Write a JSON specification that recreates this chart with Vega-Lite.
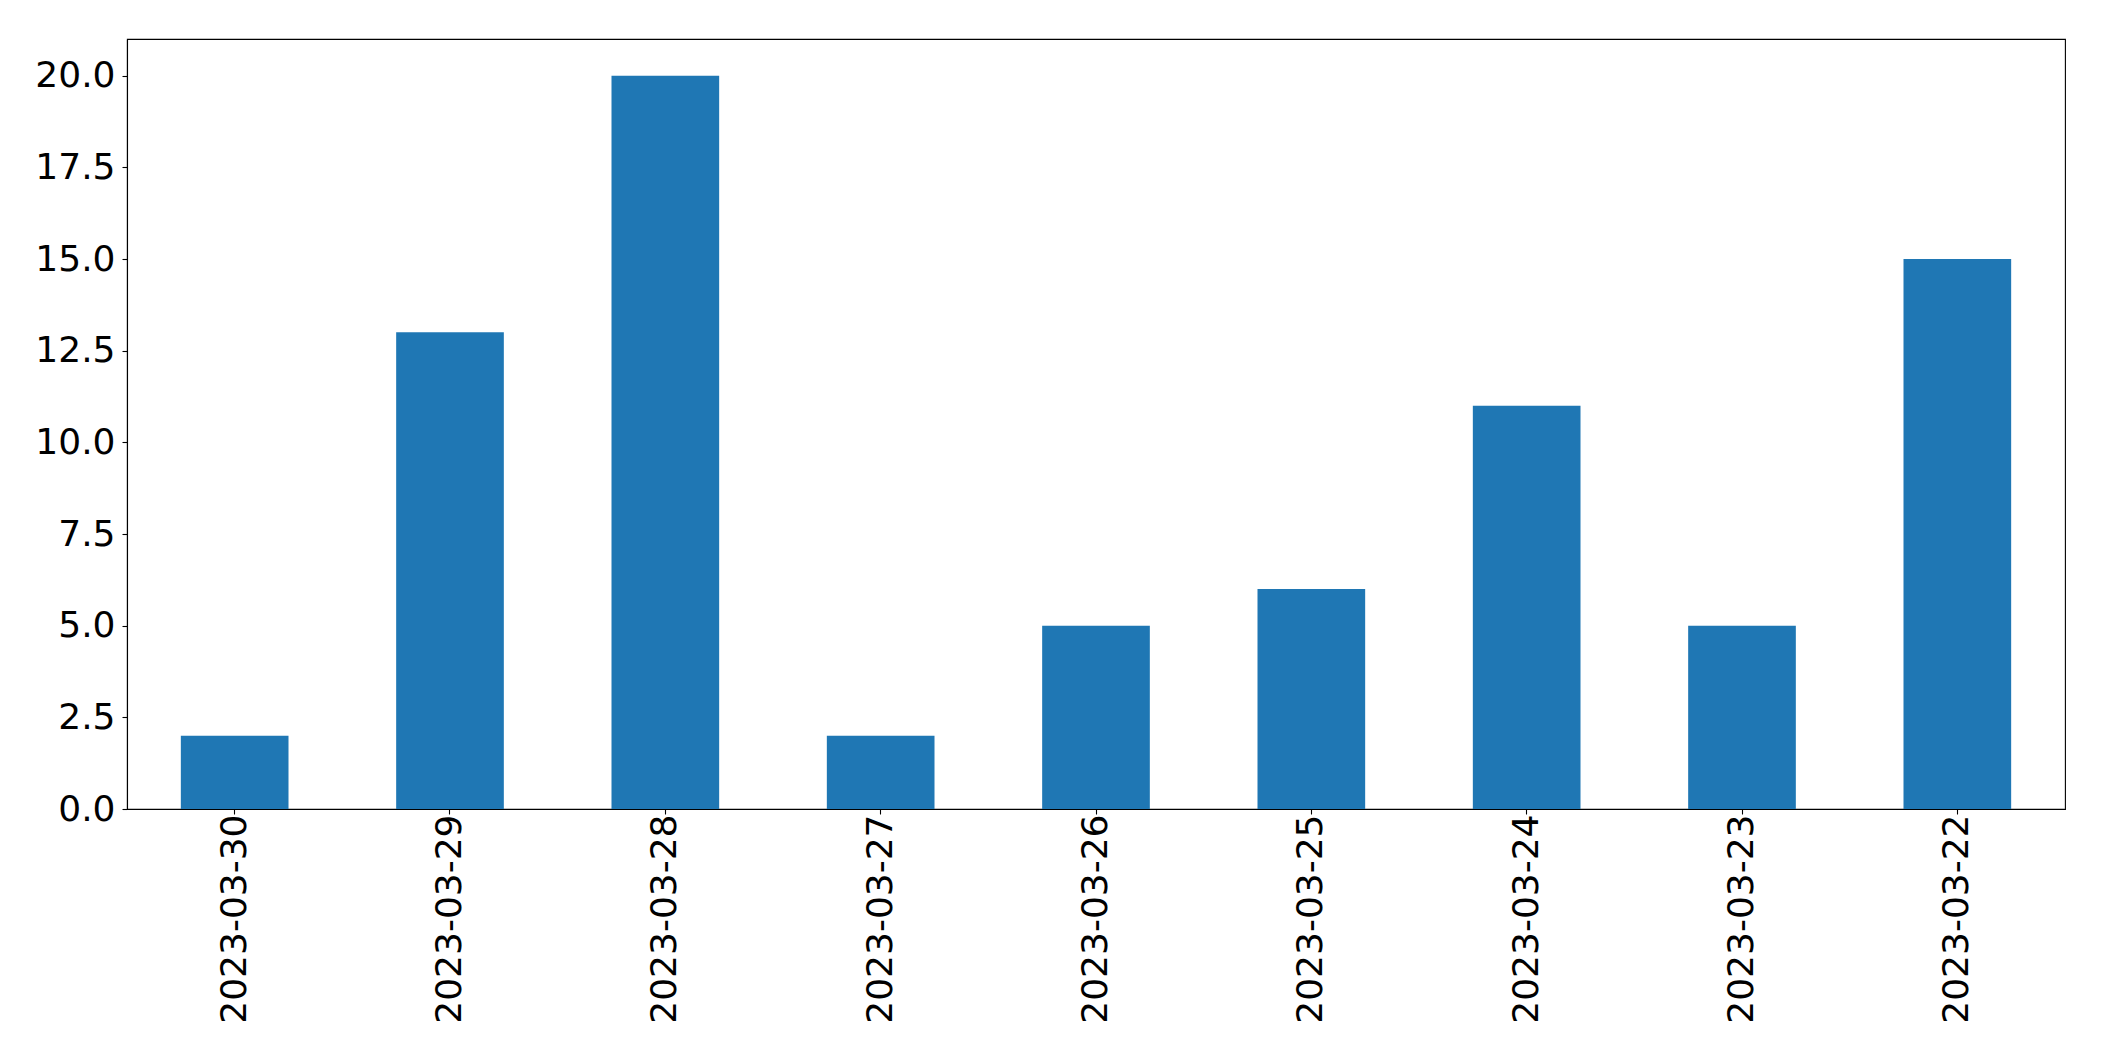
{
  "$schema": "https://vega.github.io/schema/vega-lite/v6.json",
  "autosize": {"type": "none"},
  "padding": {"left": 127, "top": 39, "right": 39, "bottom": 252},
  "width": 1938,
  "height": 770,
  "background": "white",
  "config": {
    "view": {"stroke": "black", "strokeWidth": 1.1},
    "font": "DejaVu Sans"
  },
  "data": {
    "values": [
      {"date": "2023-03-30", "count": 2},
      {"date": "2023-03-29", "count": 13},
      {"date": "2023-03-28", "count": 20},
      {"date": "2023-03-27", "count": 2},
      {"date": "2023-03-26", "count": 5},
      {"date": "2023-03-25", "count": 6},
      {"date": "2023-03-24", "count": 11},
      {"date": "2023-03-23", "count": 5},
      {"date": "2023-03-22", "count": 15}
    ]
  },
  "mark": {"type": "bar", "color": "#1f77b4"},
  "encoding": {
    "x": {
      "field": "date",
      "type": "ordinal",
      "sort": null,
      "scale": {"paddingInner": 0.5, "paddingOuter": 0.25},
      "axis": {
        "title": null,
        "labelAngle": -90,
        "labelFontSize": 36,
        "labelLimit": 0,
        "labelFont": "DejaVu Sans",
        "labelColor": "black",
        "labelPadding": 0,
        "tickSize": 5,
        "tickColor": "black",
        "tickWidth": 1.1,
        "domainColor": "black",
        "domainWidth": 1.1,
        "grid": false
      }
    },
    "y": {
      "field": "count",
      "type": "quantitative",
      "scale": {"domain": [0, 21], "nice": false},
      "axis": {
        "title": null,
        "values": [0, 2.5, 5, 7.5, 10, 12.5, 15, 17.5, 20],
        "format": ".1f",
        "labelFontSize": 36,
        "labelFont": "DejaVu Sans",
        "labelColor": "black",
        "labelPadding": 7,
        "tickSize": 5,
        "tickColor": "black",
        "tickWidth": 1.1,
        "domainColor": "black",
        "domainWidth": 1.1,
        "grid": false
      }
    }
  }
}
